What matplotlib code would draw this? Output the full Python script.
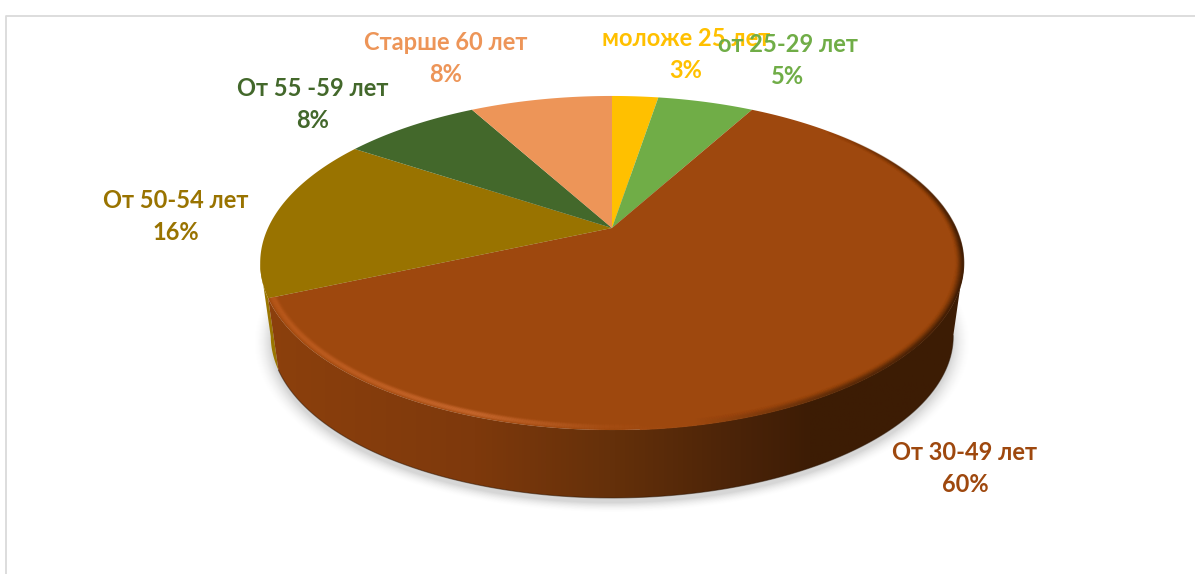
import numpy as np
import matplotlib
matplotlib.use("Agg")
import matplotlib.pyplot as plt
from matplotlib.collections import LineCollection
from matplotlib.colors import LinearSegmentedColormap
from matplotlib.patches import Polygon

plt.rcParams['font.family'] = ['Lato', 'DejaVu Sans']

labels = ["моложе 25 лет", "от 25-29 лет", "От 30-49 лет", "От 50-54 лет", "От 55 -59 лет", "Старше 60 лет"]
values = [2.6, 5.4, 60.4, 15.9, 7.7, 8.0]
colors = ["#FFC000", "#70AD47", "#9E480E", "#997300", "#43682B", "#ED9558"]
label_centers = [(686, 54), (788, 60), (965, 468), (176, 215), (313, 104), (446, 58)]

# projection of the pie disc, in pixels
cx, cy = 612, 228
a, b, k = 344, 159.7, 0.2095
depth, shrink = 74, 0.97


def project(t, scale=1.0, dy=0, r=1.0):
    # t is the clockwise angle from the top of the pie
    x, y = r * np.sin(t), r * np.cos(t)
    den = 1 + k * y
    return cx + scale * a * x / den, cy + dy - scale * b * y / den


def wedge(t0, t1):
    t = np.linspace(t0, t1, 200)
    x, y = project(t)
    return np.r_[cx, x], np.r_[cy, y]


fig = plt.figure(figsize=(11.95, 5.74), dpi=100)
ax = fig.add_axes([0, 0, 1, 1])
ax.set_xlim(0, 1195)
ax.set_ylim(574, 0)
ax.axis('off')

# chart frame
ax.plot([6.5, 6.5, 1195], [574, 15.5, 15.5], color="#DADADA", lw=1.3, zorder=1)

edges = np.r_[0, np.cumsum(values)] / sum(values) * 2 * np.pi

# soft shadow under the pie
t_all = np.linspace(0, 2 * np.pi, 400)
for grow, alpha in zip(np.linspace(16, 0, 17), np.linspace(0.003, 0.016, 17)):
    sx, sy = project(t_all, scale=shrink + grow / 350, dy=depth + 5)
    ax.fill(sx, sy, color="black", alpha=alpha, lw=0, zorder=2)

# side wall, shaded left to right
wall_cmap = LinearSegmentedColormap.from_list("wall", [
    (0.0, "#8C400D"), (0.3, "#7E390C"), (0.5, "#64300A"),
    (0.68, "#4A2308"), (0.78, "#3D1C05"), (1.0, "#3C1C04")])


def wall_outline(t0, t1):
    t = np.linspace(t0, t1, 300)
    x0, y0 = project(t)
    x1, y1 = project(t, scale=shrink, dy=depth)
    return np.column_stack([np.r_[x0, x1[::-1]], np.r_[y0, y1[::-1]]])


olive_wall = Polygon(wall_outline(edges[3], edges[3] + 0.2), fc="#9A7600", ec="none", zorder=3)
ax.add_patch(olive_wall)

front = Polygon(wall_outline(np.pi / 2 + 0.21, edges[3]), fc="none", ec="none", zorder=3)
ax.add_patch(front)
shade = ax.imshow(np.linspace(0, 1, 512)[None, :], cmap=wall_cmap, extent=[265, 965, 520, 250],
                  aspect='auto', zorder=3)
shade.set_clip_path(front)
ax.set_xlim(0, 1195)
ax.set_ylim(574, 0)

# thin dark edge at the foot of the wall
t = np.linspace(np.pi / 2 + 0.21, edges[3], 300)
ax.plot(*project(t, scale=shrink, dy=depth), color="#2A1403", lw=0.8, alpha=0.5, zorder=3)

# top of each slice
for v0, v1, col in zip(edges[:-1], edges[1:], colors):
    x, y = wedge(v0, v1)
    ax.fill(x, y, color=col, lw=0, zorder=4)

# bevel along the front rim of the big slice
rim_cmap = LinearSegmentedColormap.from_list("rim", [
    (0.0, "#BC5A1C"), (0.3, "#C8682E"), (0.5, "#A44C12"), (0.62, "#9E480E"),
    (0.82, "#5E2C08"), (1.0, "#3A1B04")])
tone = plt.Normalize(265, 960)
t = np.linspace(0.8, edges[3], 600)
fade = np.clip((t - t[0]) / 0.9, 0, 1)[:-1]
radii = np.linspace(0.999, 0.972, 12)
for r in radii:
    x, y = project(t, r=r)
    pts = np.column_stack([x, y])
    segs = np.stack([pts[:-1], pts[1:]], axis=1)
    rgba = rim_cmap(tone(x[:-1]))
    # highlight peaks a little inside the edge on the left, dark edge fades inward on the right
    rgba[:, 3] = fade * np.where(x[:-1] < 640, 0.7 * np.exp(-((r - 0.987) / 0.008) ** 2),
                                 0.9 * np.clip((r - 0.975) / 0.023, 0, 1) ** 2)
    ax.add_collection(LineCollection(segs, colors=rgba, linewidths=1.2, zorder=5, capstyle='butt'))

# slice labels
for name, val, (lx, ly), col in zip(labels, values, label_centers, colors):
    ax.text(lx, ly - 15, name, color=col, fontsize=17, fontweight='bold', ha='center', va='center', zorder=6)
    ax.text(lx, ly + 17, "{}%".format(round(val)), color=col, fontsize=17, fontweight='bold', ha='center', va='center', zorder=6)

fig.savefig("out.png", dpi=100)
